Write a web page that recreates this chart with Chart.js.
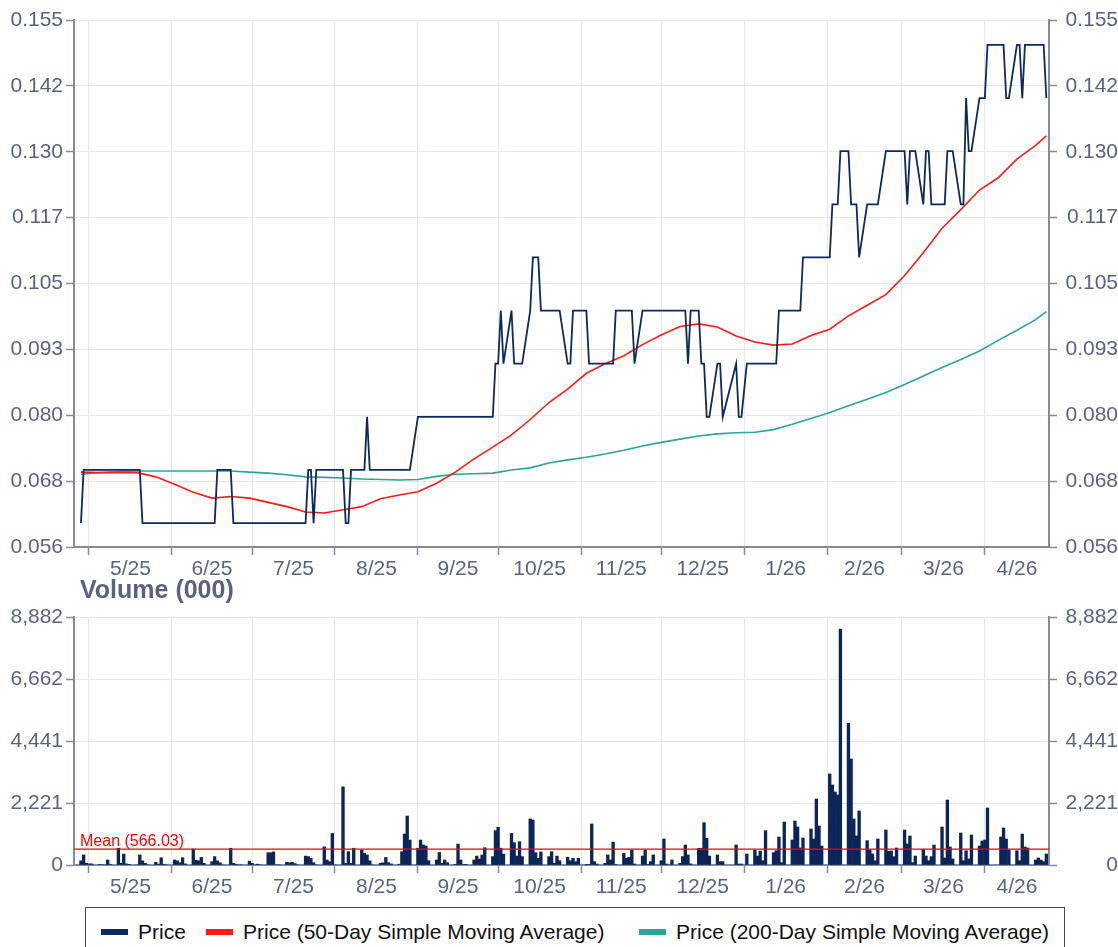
<!DOCTYPE html>
<html><head><meta charset="utf-8">
<script src="https://cdn.jsdelivr.net/npm/chart.js@4.4.1/dist/chart.umd.min.js"></script>
<style>
html,body{margin:0;padding:0;background:#fff;width:1118px;height:947px;overflow:hidden;font-family:"Liberation Sans",Arial,sans-serif;}
#pc{position:absolute;left:0;top:0;}
#vc{position:absolute;left:0;top:600px;}
#vt{position:absolute;left:80px;top:577px;font:bold 25px "Liberation Sans",Arial,sans-serif;color:#5b6280;line-height:25px;white-space:nowrap;}
#lg{position:absolute;left:85px;top:907px;width:980px;height:60px;border:1.5px solid #4a4a4a;box-sizing:border-box;}
.it{position:absolute;top:12px;font-size:21px;line-height:24px;color:#111;white-space:nowrap;}
.sw{display:inline-block;width:27px;height:6px;vertical-align:middle;margin-right:10px;position:relative;top:-1px;}
</style></head>
<body>
<canvas id="pc" width="1118" height="580"></canvas>
<div id="vt">Volume (000)</div>
<canvas id="vc" width="1118" height="300"></canvas>
<div id="lg"></div>
<script>
// ---------- DATA ----------
const startDate = '2025-04-28';
const endDate = '2026-04-24';
const holidays = ['2025-12-25','2025-12-26','2026-01-01','2026-04-03','2026-04-06'];

// daily closing price, one row per week
const price = [
  0.06,0.07,0.07,0.07,0.07,
  0.07,0.07,0.07,0.07,0.07,
  0.07,0.07,0.07,0.07,0.07,
  0.07,0.07,0.06,0.06,0.06,
  0.06,0.06,0.06,0.06,0.06,
  0.06,0.06,0.06,0.06,0.06,
  0.06,0.06,0.06,0.06,0.06,
  0.06,0.06,0.07,0.07,0.07,
  0.07,0.06,0.06,0.06,0.06,
  0.06,0.06,0.06,0.06,0.06,
  0.06,0.06,0.06,0.06,0.06,
  0.06,0.06,0.06,0.06,0.06,
  0.06,0.07,0.07,0.06,0.07,
  0.07,0.07,0.07,0.07,0.07,
  0.07,0.06,0.06,0.07,0.07,
  0.07,0.07,0.08,0.07,0.07,
  0.07,0.07,0.07,0.07,0.07,
  0.07,0.07,0.07,0.07,0.07,
  0.08,0.08,0.08,0.08,0.08,
  0.08,0.08,0.08,0.08,0.08,
  0.08,0.08,0.08,0.08,0.08,
  0.08,0.08,0.08,0.08,0.08,
  0.08,0.09,0.09,0.10,0.09,
  0.10,0.09,0.09,0.09,0.09,
  0.10,0.11,0.11,0.11,0.10,
  0.10,0.10,0.10,0.10,0.10,
  0.09,0.09,0.10,0.10,0.10,
  0.10,0.09,0.09,0.09,0.09,
  0.09,0.09,0.09,0.09,0.10,
  0.10,0.10,0.10,0.10,0.09,
  0.10,0.10,0.10,0.10,0.10,
  0.10,0.10,0.10,0.10,0.10,
  0.10,0.10,0.10,0.09,0.10,
  0.10,0.09,0.09,0.08,0.08,
  0.09,0.09,0.08,
  0.09,0.08,0.08,0.09,
  0.09,0.09,0.09,0.09,0.09,
  0.09,0.09,0.10,0.10,0.10,
  0.10,0.10,0.10,0.10,0.11,
  0.11,0.11,0.11,0.11,0.11,
  0.11,0.12,0.12,0.12,0.13,
  0.13,0.12,0.12,0.12,0.11,
  0.12,0.12,0.12,0.12,0.12,
  0.13,0.13,0.13,0.13,0.13,
  0.13,0.12,0.13,0.13,0.13,
  0.12,0.13,0.13,0.12,0.12,
  0.12,0.12,0.13,0.13,0.13,
  0.12,0.12,0.14,0.13,0.13,
  0.14,0.14,0.14,0.15,
  0.15,0.15,0.14,0.14,
  0.15,0.15,0.14,0.15,0.15,
  0.15,0.15,0.15,0.15,0.14
];

// daily volume (000), one row per week
const volume = [
  150,360,60,40,40,
  20,0,0,180,20,
  600,60,390,40,10,
  0,360,150,60,0,
  100,30,260,20,0,
  180,150,80,260,40,
  570,170,150,270,60,
  120,300,150,80,0,
  600,60,30,0,0,
  140,60,0,30,0,
  440,440,470,0,0,
  100,80,100,50,0,
  320,300,240,80,0,
  650,180,120,1130,0,
  2800,60,480,60,600,
  540,420,360,150,0,
  60,80,270,80,40,
  30,477,1110,1755,895,
  600,895,716,680,155,
  180,450,60,180,80,
  25,750,180,20,10,
  180,320,215,358,620,
  300,1230,1350,600,390,
  1130,800,320,835,300,
  1650,1610,440,240,465,
  300,477,60,320,155,
  275,155,240,120,240,
  10,10,1470,120,35,
  60,360,180,820,20,
  420,240,275,540,35,
  320,540,25,120,360,
  155,930,35,0,180,
  60,300,716,360,40,
  597,600,1515,955,320,
  360,120,120,
  716,35,35,394,
  537,322,501,155,1230,
  442,513,1003,84,1540,
  895,1576,1361,609,967,
  1290,931,2364,1397,680,
  3260,2866,2615,2507,8453,
  5075,3797,1648,1039,1934,
  872,537,394,155,931,
  1254,490,501,299,609,
  1254,752,1039,84,322,
  561,322,155,299,716,
  1361,251,2328,645,215,
  1146,155,513,215,1075,
  680,860,895,2042,
  1003,1325,931,537,
  513,155,1110,645,609,
  179,251,179,119,394
];

// moving averages sampled weekly (Mondays) plus last day
const smaDates = ['2025-04-28','2025-05-05','2025-05-12','2025-05-19','2025-05-26','2025-06-02','2025-06-09','2025-06-16','2025-06-23','2025-06-30',
  '2025-07-07','2025-07-14','2025-07-21','2025-07-28','2025-08-04','2025-08-11','2025-08-18','2025-08-25','2025-09-01','2025-09-08',
  '2025-09-15','2025-09-22','2025-09-29','2025-10-06','2025-10-13','2025-10-20','2025-10-27','2025-11-03','2025-11-10','2025-11-17',
  '2025-11-24','2025-12-01','2025-12-08','2025-12-15','2025-12-22','2025-12-29','2026-01-05','2026-01-12','2026-01-19','2026-01-26',
  '2026-02-02','2026-02-09','2026-02-16','2026-02-23','2026-03-02','2026-03-09','2026-03-16','2026-03-23','2026-03-30','2026-04-06',
  '2026-04-13','2026-04-20','2026-04-24'];
const sma50 = [0.0696,0.0695,0.0695,0.0695,0.0687,0.0673,0.0658,0.0647,0.0650,0.0647,
  0.0639,0.0631,0.0621,0.0619,0.0625,0.0631,0.0646,0.0653,0.0659,0.0675,
  0.0696,0.0721,0.0743,0.0766,0.0795,0.0827,0.0852,0.0882,0.0900,0.0915,
  0.0936,0.0954,0.0970,0.0975,0.0969,0.0952,0.0941,0.0935,0.0937,0.0953,
  0.0965,0.0990,0.1010,0.1030,0.1066,0.1109,0.1155,0.1190,0.1227,0.1250,
  0.1285,0.1311,0.1329];
const sma200 = [0.0692,0.0695,0.0697,0.0698,0.0698,0.0698,0.0698,0.0698,0.0698,0.0696,
  0.0694,0.0691,0.0687,0.0686,0.0685,0.0683,0.0682,0.0681,0.0682,0.0688,
  0.0692,0.0693,0.0694,0.0700,0.0704,0.0713,0.0719,0.0724,0.0730,0.0737,
  0.0745,0.0752,0.0758,0.0764,0.0768,0.0770,0.0771,0.0776,0.0786,0.0797,
  0.0808,0.0821,0.0833,0.0846,0.0861,0.0877,0.0893,0.0908,0.0924,0.0944,
  0.0963,0.0983,0.0998];

const meanVolume = 566.03;

const monthStarts = ['2025-05-01','2025-06-01','2025-07-01','2025-08-01','2025-09-01','2025-10-01','2025-11-01','2025-12-01','2026-01-01','2026-02-01','2026-03-01','2026-04-01'];
const monthLabels = ['5/25','6/25','7/25','8/25','9/25','10/25','11/25','12/25','1/26','2/26','3/26','4/26'];

const priceTickLabels = ['0.056','0.068','0.080','0.093','0.105','0.117','0.130','0.142','0.155'];
const volumeTickLabels = ['0','2,221','4,441','6,662','8,882'];

// ---------- BUILD ----------
const DAY = 86400000;
const t0 = Date.parse(startDate + 'T00:00:00Z');
const dayOf = s => (Date.parse(s + 'T00:00:00Z') - t0) / DAY;
const tradingDays = [];
for (let t = t0; t <= Date.parse(endDate + 'T00:00:00Z'); t += DAY) {
  const dt = new Date(t), wd = dt.getUTCDay(), iso = dt.toISOString().slice(0,10);
  if (wd === 0 || wd === 6 || holidays.includes(iso)) continue;
  tradingDays.push(iso);
}

const X_MIN = -2.6, X_MAX = 362;
const P_MIN = 0.0555, P_MAX = 0.1547;
const V_MIN = 0, V_MAX = 8882;

const FONT = '"Liberation Sans", Arial, sans-serif';
Chart.defaults.font.family = FONT;
const tickColor = '#5b6280';
const axisColor = '#858aa0';
const gridColor = '#e7e8ef';

const gridTickPos = monthStarts.map(dayOf);
const labelTickPos = gridTickPos.map((v, i) => (v + (i + 1 < gridTickPos.length ? gridTickPos[i + 1] : X_MAX)) / 2);
const NG = gridTickPos.length;

function xAxis(h) {
  return {
    type: 'linear', position: 'bottom', min: X_MIN, max: X_MAX, offset: false,
    afterBuildTicks: s => { s.ticks = gridTickPos.map(v => ({value: v})).concat(labelTickPos.map(v => ({value: v}))); },
    afterFit: s => { s.height = h; },
    ticks: { autoSkip: false, maxRotation: 0, minRotation: 0, padding: 2, color: tickColor, font: {size: 21},
      callback: (v, i) => i < NG ? '' : monthLabels[i - NG] },
    grid: { offset: false, color: c => c.index < NG ? gridColor : 'rgba(0,0,0,0)', tickColor: c => c.index < NG ? axisColor : 'rgba(0,0,0,0)',
      tickLength: 8, lineWidth: 1, tickWidth: 1.5 },
    border: { color: axisColor, width: 2 }
  };
}
function yAxis(pos, min, max, labels, w) {
  const n = labels.length;
  return {
    type: 'linear', position: pos, min: min, max: max,
    afterBuildTicks: s => { s.ticks = labels.map((l, i) => ({value: min + i * (max - min) / (n - 1)})); },
    afterFit: s => { s.width = w; },
    ticks: { color: tickColor, font: {size: 21}, padding: 3, crossAlign: pos === 'right' ? 'far' : 'near',
      callback: (v, i) => labels[i] },
    grid: { color: gridColor, tickColor: axisColor, tickLength: 8, lineWidth: 1, tickWidth: 1.5, drawOnChartArea: pos === 'left' },
    border: { color: axisColor, width: 2 }
  };
}

const common = {
  responsive: false, animation: false, devicePixelRatio: 1,
  plugins: { legend: {display: false}, tooltip: {enabled: false} },
  elements: { point: {radius: 0} }
};

new Chart(document.getElementById('pc'), {
  type: 'line',
  data: { datasets: [
    { label: 'Price', data: tradingDays.map((d, i) => ({x: dayOf(d), y: price[i]})), borderColor: '#0d2a5e', borderWidth: 1.8, tension: 0, yAxisID: 'y' },
    { label: 'Price (50-Day Simple Moving Average)', data: smaDates.map((d, i) => ({x: dayOf(d), y: sma50[i]})), borderColor: '#ff1a1a', borderWidth: 1.6, tension: 0, yAxisID: 'y' },
    { label: 'Price (200-Day Simple Moving Average)', data: smaDates.map((d, i) => ({x: dayOf(d), y: sma200[i]})), borderColor: '#2aa596', borderWidth: 1.6, tension: 0, yAxisID: 'y' }
  ]},
  options: Object.assign({}, common, {
    layout: { padding: {top: 20, left: 0, right: 0, bottom: 0} },
    scales: { x: xAxis(33), y: yAxis('left', P_MIN, P_MAX, priceTickLabels, 74), y2: yAxis('right', P_MIN, P_MAX, priceTickLabels, 69) }
  })
});

const meanLabelPlugin = {
  id: 'meanLabel',
  afterDatasetsDraw(chart) {
    const y = chart.scales.y.getPixelForValue(meanVolume);
    const ctx = chart.ctx;
    ctx.save();
    ctx.fillStyle = '#ff0000';
    ctx.font = '16px ' + FONT;
    ctx.textAlign = 'left';
    ctx.textBaseline = 'alphabetic';
    ctx.fillText('Mean (' + meanVolume.toFixed(2) + ')', chart.chartArea.left + 6, y - 3);
    ctx.restore();
  }
};

new Chart(document.getElementById('vc'), {
  data: { datasets: [
    { type: 'line', label: 'Mean', data: [{x: X_MIN, y: meanVolume}, {x: X_MAX, y: meanVolume}], borderColor: '#ff0000', borderWidth: 1.3, yAxisID: 'y' },
    { type: 'bar', label: 'Volume', data: tradingDays.map((d, i) => ({x: dayOf(d), y: volume[i]})), backgroundColor: '#0b2559', borderWidth: 0,
      barPercentage: 1, categoryPercentage: 1, yAxisID: 'y' }
  ]},
  options: Object.assign({}, common, {
    layout: { padding: {top: 17, left: 0, right: 0, bottom: 0} },
    scales: { x: xAxis(35), y: yAxis('left', V_MIN, V_MAX, volumeTickLabels, 74), y2: yAxis('right', V_MIN, V_MAX, volumeTickLabels, 69) }
  }),
  plugins: [meanLabelPlugin]
});

// legend
const legendItems = [
  {label: 'Price', color: '#0d2a5e', left: 15},
  {label: 'Price (50-Day Simple Moving Average)', color: '#ff1a1a', left: 120},
  {label: 'Price (200-Day Simple Moving Average)', color: '#2aa596', left: 553}
];
const lg = document.getElementById('lg');
legendItems.forEach(it => {
  const d = document.createElement('div');
  d.className = 'it';
  d.style.left = it.left + 'px';
  const s = document.createElement('span');
  s.className = 'sw';
  s.style.background = it.color;
  d.appendChild(s);
  d.appendChild(document.createTextNode(it.label));
  lg.appendChild(d);
});
</script>
</body></html>
